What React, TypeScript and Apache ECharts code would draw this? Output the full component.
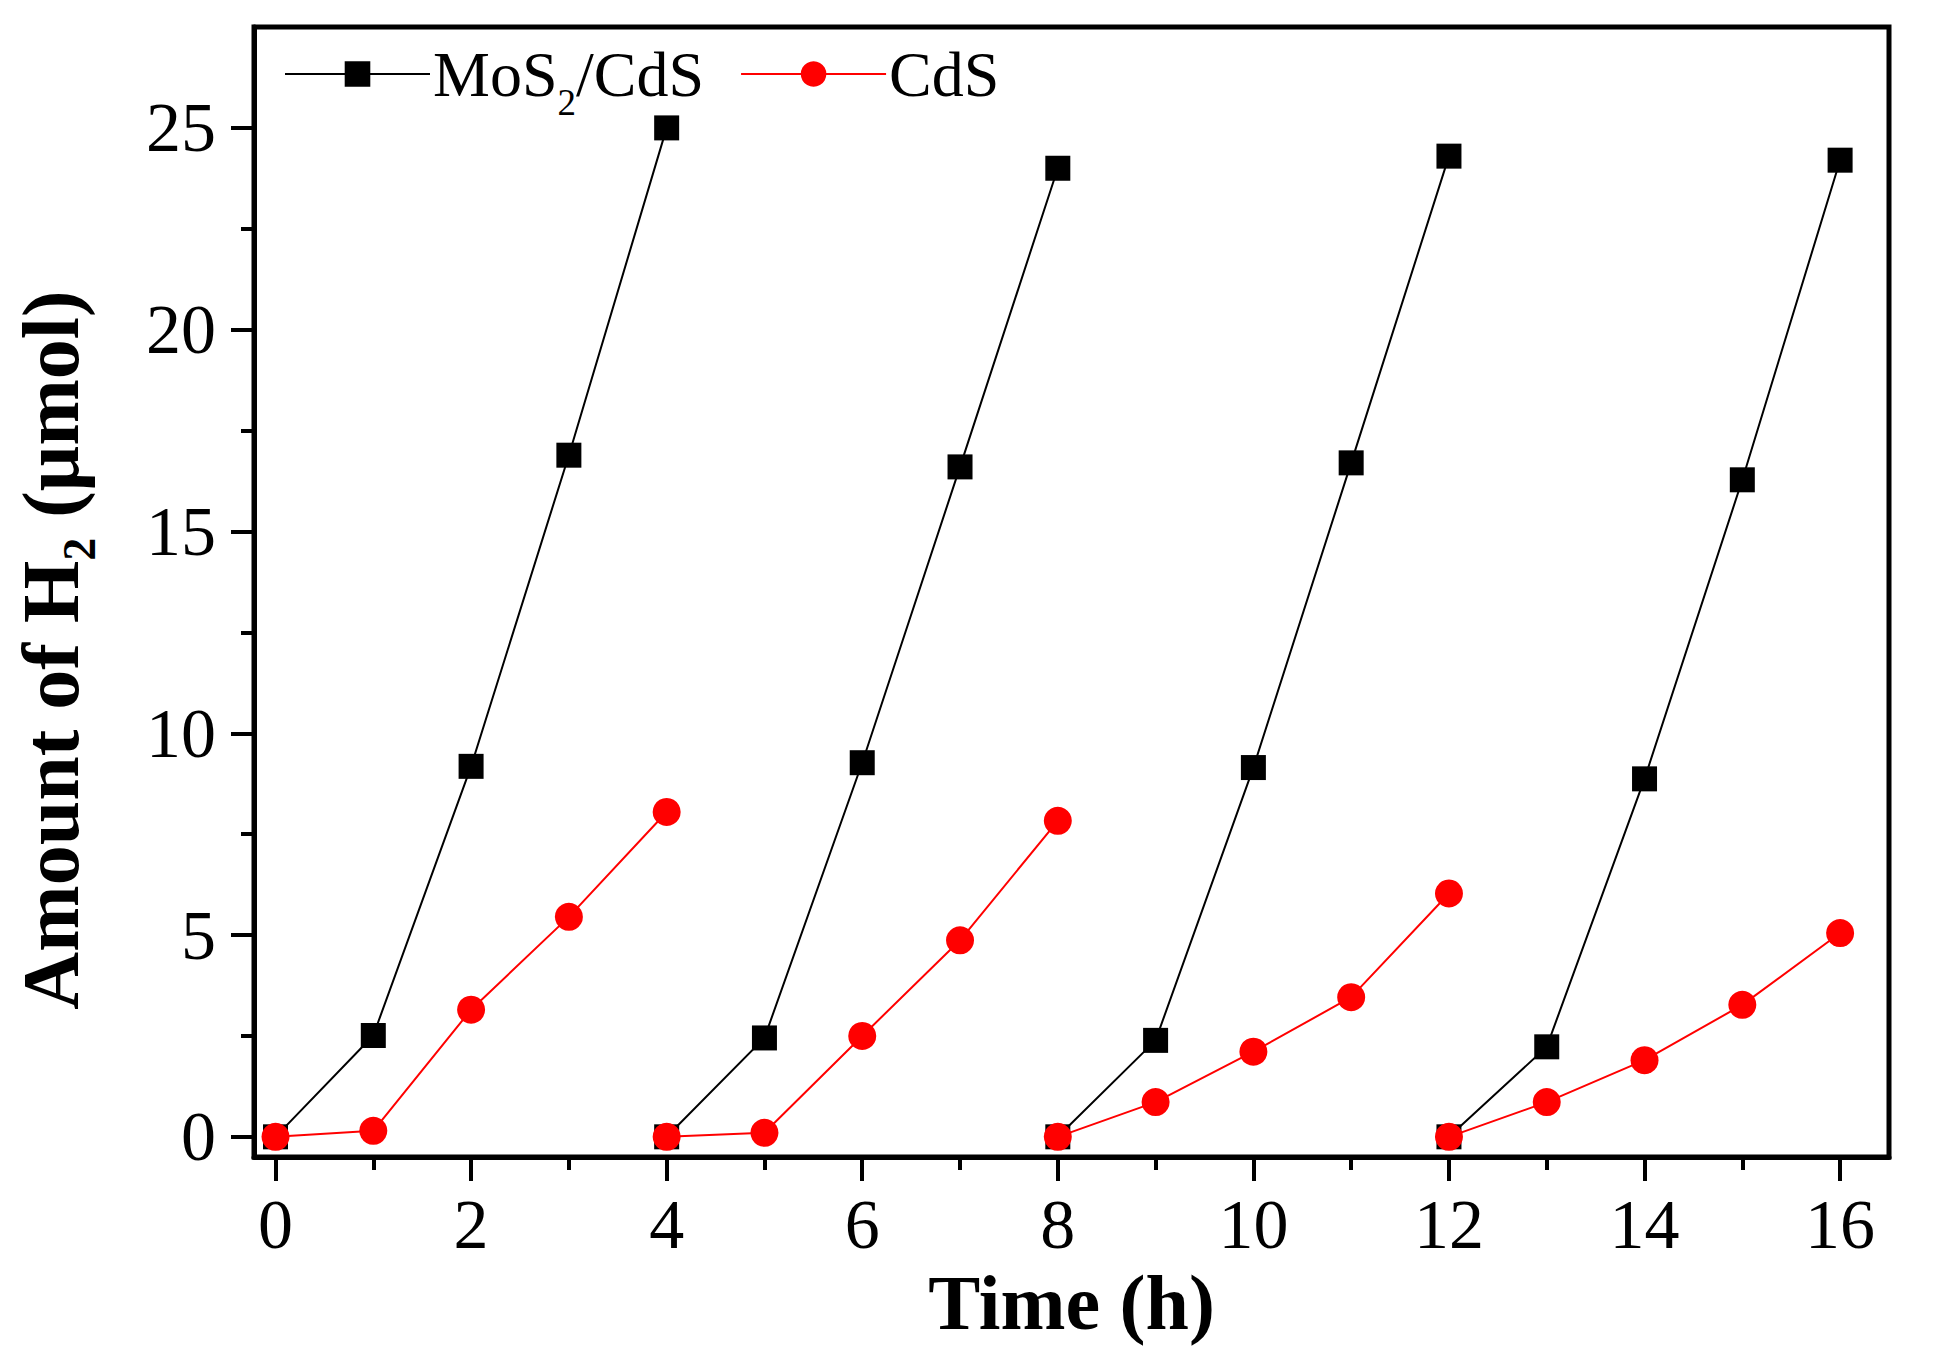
import {useEffect, useRef} from "react";
import * as echarts from "echarts";

// four 4-hour cycles, the vial is evacuated between them
const cycleHours = [
    [0, 1, 2, 3, 4],
    [4, 5, 6, 7, 8],
    [8, 9, 10, 11, 12],
    [12, 13, 14, 15, 16],
];
const mos2CdsH2 = [
    [0, 2.51, 9.18, 16.89, 25.0],
    [0, 2.45, 9.27, 16.6, 24.0],
    [0, 2.39, 9.15, 16.7, 24.3],
    [0, 2.23, 8.87, 16.28, 24.2],
];
const cdsH2 = [
    [0, 0.15, 3.15, 5.45, 8.05],
    [0, 0.1, 2.5, 4.87, 7.83],
    [0, 0.86, 2.11, 3.46, 6.03],
    [0, 0.86, 1.9, 3.27, 5.05],
];
const xMajorTicks = [0, 2, 4, 6, 8, 10, 12, 14, 16];
const xMinorTicks = [1, 3, 5, 7, 9, 11, 13, 15];
const yMajorTicks = [0, 5, 10, 15, 20, 25];
const yMinorTicks = [2.5, 7.5, 12.5, 17.5, 22.5];

const FONT = "'Liberation Serif', 'Times New Roman', serif";

// join the cycles, with an empty point between them so the line breaks
function toSeriesData(values: number[][]) {
    const out: (number | string)[][] = [];
    cycleHours.forEach((hours, i) => {
        hours.forEach((h, j) => out.push([h, values[i][j]]));
        if (i < cycleHours.length - 1) out.push([hours[hours.length - 1], "-"]);
    });
    return out;
}

export default function App() {
    const domRef = useRef<HTMLDivElement>(null);

    useEffect(() => {
        if (!domRef.current) return;
        const chart = echarts.init(domRef.current, null, {renderer: "svg"});

        const majorX = {
            type: "value", min: -0.22, max: 16.5,
            axisLine: {show: true, onZero: false, lineStyle: {color: "#000", width: 5}},
            axisTick: {show: true, customValues: xMajorTicks, length: 24, lineStyle: {color: "#000", width: 4}},
            axisLabel: {show: true, customValues: xMajorTicks, margin: 32, color: "#000", fontSize: 70, fontFamily: FONT},
            splitLine: {show: false},
        };
        const minorX = {
            type: "value", min: -0.22, max: 16.5, position: "bottom",
            axisLine: {show: false, onZero: false},
            axisTick: {show: true, customValues: xMinorTicks, length: 13, lineStyle: {color: "#000", width: 4}},
            axisLabel: {show: false},
            splitLine: {show: false},
        };
        const majorY = {
            type: "value", min: -0.5, max: 27.5,
            axisLine: {show: true, onZero: false, lineStyle: {color: "#000", width: 5}},
            axisTick: {show: true, customValues: yMajorTicks, length: 23, lineStyle: {color: "#000", width: 4}},
            axisLabel: {show: true, customValues: yMajorTicks, margin: 38, color: "#000", fontSize: 70, fontFamily: FONT},
            splitLine: {show: false},
        };
        const minorY = {
            type: "value", min: -0.5, max: 27.5, position: "left",
            axisLine: {show: false, onZero: false},
            axisTick: {show: true, customValues: yMinorTicks, length: 13, lineStyle: {color: "#000", width: 4}},
            axisLabel: {show: false},
            splitLine: {show: false},
        };

        chart.setOption({
            animation: false,
            backgroundColor: "#fff",
            grid: {left: 254, right: 46, top: 27, bottom: 210, show: true, borderColor: "#000", borderWidth: 5},
            legend: {
                left: 279, top: 37,
                itemWidth: 145, itemHeight: 32, itemGap: 36,
                formatter: (name: string) => name === "MoS2/CdS" ? "{n|MoS}{s|2}{n|/CdS}" : "{n|" + name + "}",
                textStyle: {
                    color: "#000", fontFamily: FONT, fontSize: 64, padding: [0, 0, 0, -2],
                    rich: {
                        n: {fontSize: 64, fontFamily: FONT, color: "#000"},
                        s: {fontSize: 37, fontFamily: FONT, color: "#000", padding: [56, 0, 0, 0]},
                    },
                },
                data: ["MoS2/CdS", "CdS"],
            },
            xAxis: [
                {
                    ...majorX,
                    name: "Time (h)", nameLocation: "middle", nameGap: 104,
                    nameTextStyle: {color: "#000", fontSize: 78, fontWeight: "bold", fontFamily: FONT},
                },
                minorX,
            ],
            yAxis: [
                {
                    ...majorY,
                    name: "{b|Amount of H}{s|2}{b| (μmol)}", nameLocation: "middle", nameGap: 152, nameRotate: 90,
                    nameTextStyle: {
                        padding: [0, 116, 0, 0],
                        rich: {
                            b: {fontSize: 80, fontWeight: "bold", fontFamily: FONT, color: "#000"},
                            s: {fontSize: 46, fontWeight: "bold", fontFamily: FONT, color: "#000", padding: [56, 0, 0, 0]},
                        },
                    },
                },
                minorY,
            ],
            series: [
                {
                    name: "MoS2/CdS", type: "line", xAxisIndex: 0, yAxisIndex: 0,
                    data: toSeriesData(mos2CdsH2), connectNulls: false,
                    symbol: "rect", symbolSize: 25,
                    itemStyle: {color: "#000"}, lineStyle: {color: "#000", width: 2},
                },
                {
                    name: "CdS", type: "line", xAxisIndex: 0, yAxisIndex: 0,
                    data: toSeriesData(cdsH2), connectNulls: false,
                    symbol: "circle", symbolSize: 28,
                    itemStyle: {color: "#ff0000"}, lineStyle: {color: "#ff0000", width: 2},
                },
            ],
        });

        return () => chart.dispose();
    }, []);

    return <div ref={domRef} style={{position: "fixed", left: 0, top: 0, width: 1935, height: 1367}} />;
}
